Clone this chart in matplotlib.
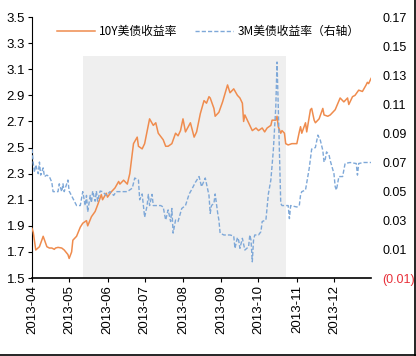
import matplotlib
matplotlib.use("Agg")
import matplotlib.pyplot as plt
import matplotlib.dates as mdates
import pandas as pd
import numpy as np

plt.rcParams['font.family'] = ['Liberation Sans', 'Noto Sans CJK SC', 'DejaVu Sans']

start = pd.Timestamp('2013-04-01')

# 10Y US Treasury yield (left axis): day offsets from 2013-04-01 and values
y10_days = [0, 1, 3, 6, 9, 12, 14, 16, 18, 19, 21, 24, 26, 29, 30, 32, 33, 36, 39, 41,
            44, 45, 48, 51, 53, 56, 57, 60, 61, 64, 67, 70, 71, 74, 77, 79, 82, 85, 86, 89,
            91, 95, 98, 100, 102, 106, 108, 110, 113, 116, 118, 120, 122, 124, 128, 131, 133, 136, 139, 141,
            143, 144, 147, 148, 151, 154, 158, 160, 163, 166, 168, 170, 171, 172, 175, 178, 181, 183, 186, 188,
            190, 193, 194, 197, 198, 199, 201, 202, 204, 205, 207, 210, 212, 214, 216, 217, 218, 221, 222, 225,
            226, 228, 229, 232, 235, 236, 239, 241, 245, 249, 252, 255, 256, 259, 261, 264, 267, 270, 271, 272,
            274]
y10_vals = [1.88, 1.85, 1.715, 1.74, 1.82, 1.74, 1.73, 1.73, 1.72, 1.73, 1.735, 1.73, 1.715, 1.68, 1.65, 1.70, 1.79, 1.82, 1.89, 1.92,
            1.94, 1.90, 1.97, 2.01, 2.06, 2.14, 2.10, 2.15, 2.12, 2.16, 2.19, 2.24, 2.22, 2.25, 2.22, 2.30, 2.53, 2.58, 2.51, 2.49,
            2.53, 2.72, 2.67, 2.69, 2.61, 2.56, 2.51, 2.51, 2.53, 2.61, 2.59, 2.63, 2.72, 2.62, 2.69, 2.58, 2.62, 2.76, 2.86, 2.84,
            2.89, 2.88, 2.80, 2.74, 2.77, 2.85, 2.98, 2.92, 2.95, 2.90, 2.88, 2.84, 2.70, 2.75, 2.69, 2.63, 2.65, 2.63, 2.65, 2.62,
            2.65, 2.67, 2.71, 2.71, 2.74, 2.66, 2.61, 2.63, 2.61, 2.53, 2.52, 2.53, 2.53, 2.53, 2.62, 2.66, 2.61, 2.69, 2.62, 2.79,
            2.80, 2.71, 2.69, 2.72, 2.80, 2.75, 2.74, 2.75, 2.79, 2.88, 2.85, 2.88, 2.83, 2.89, 2.90, 2.94, 2.93, 2.98, 3.00, 2.99,
            3.03]

# 3M US Treasury yield (right axis)
m3_days = [0, 1, 2, 3, 5, 6, 7, 9, 10, 12, 14, 16, 17, 21, 22, 24, 25, 26, 29, 30,
           33, 36, 39, 41, 43, 44, 45, 47, 48, 49, 51, 52, 53, 55, 57, 60, 63, 66, 68, 71,
           77, 81, 83, 86, 87, 89, 90, 91, 93, 94, 95, 97, 98, 104, 106, 108, 110, 112, 113, 114,
           116, 118, 121, 124, 127, 129, 132, 135, 137, 140, 143, 144, 145, 147, 148, 150, 151, 152, 155, 160,
           163, 164, 166, 167, 168, 170, 172, 175, 176, 177, 178, 179, 180, 183, 185, 186, 189, 191, 193, 195,
           197, 198, 199, 201, 202, 205, 207, 208, 209, 214, 216, 217, 218, 221, 224, 226, 229, 231, 233, 235,
           236, 237, 238, 240, 241, 244, 245, 246, 248, 251, 253, 257, 262, 263, 264, 268, 275]
m3_vals = [0.079, 0.069, 0.063, 0.068, 0.062, 0.070, 0.061, 0.066, 0.060, 0.061, 0.060, 0.056, 0.0496, 0.0496, 0.055, 0.0496, 0.055, 0.0496, 0.0576, 0.050,
           0.045, 0.040, 0.040, 0.0496, 0.040, 0.047, 0.0357, 0.047, 0.042, 0.050, 0.043, 0.050, 0.043, 0.050, 0.0496, 0.047, 0.0496, 0.047, 0.0496, 0.0496,
           0.0496, 0.052, 0.059, 0.0576, 0.044, 0.048, 0.040, 0.032, 0.040, 0.0477, 0.040, 0.0477, 0.040, 0.040, 0.039, 0.030, 0.037, 0.029, 0.038, 0.021,
           0.030, 0.029, 0.038, 0.040, 0.048, 0.051, 0.056, 0.060, 0.053, 0.059, 0.047, 0.0346, 0.040, 0.0415, 0.048, 0.035, 0.030, 0.021, 0.0197, 0.0197,
           0.019, 0.0105, 0.018, 0.016, 0.0105, 0.0174, 0.0093, 0.0116, 0.0197, 0.016, 0.0012, 0.016, 0.0197, 0.0197, 0.022, 0.029, 0.030, 0.048, 0.0576, 0.078,
           0.108, 0.139, 0.108, 0.0415, 0.040, 0.040, 0.040, 0.031, 0.040, 0.039, 0.040, 0.0472, 0.0496, 0.0507, 0.0656, 0.079, 0.080, 0.0886, 0.085, 0.078,
           0.070, 0.072, 0.077, 0.075, 0.071, 0.062, 0.053, 0.0507, 0.060, 0.060, 0.069, 0.0697, 0.069, 0.061, 0.069, 0.0697, 0.0697]

shade_start = '2013-05-12'
shade_end = '2013-10-23'
shade_top = 3.2

left_ticks = [1.5, 1.7, 1.9, 2.1, 2.3, 2.5, 2.7, 2.9, 3.1, 3.3, 3.5]
right_ticks = [-0.01, 0.01, 0.03, 0.05, 0.07, 0.09, 0.11, 0.13, 0.15, 0.17]
x_ticks = ['2013-04-01', '2013-05-01', '2013-06-01', '2013-07-01', '2013-08-01',
           '2013-09-01', '2013-10-01', '2013-11-01', '2013-12-01']

label_10y = '10Y美债收益率'
label_3m = '3M美债收益率（右轴）'

y10_dates = start + pd.to_timedelta(y10_days, unit='D')
m3_dates = start + pd.to_timedelta(m3_days, unit='D')

fig = plt.figure(figsize=(4.16, 3.56), dpi=100)
ax = fig.add_axes([0.077, 0.219, 0.815, 0.733])
ax2 = ax.twinx()

ax.fill_between([pd.Timestamp(shade_start), pd.Timestamp(shade_end)], 1.5, shade_top,
                color='#EFEFEF', lw=0, zorder=0)

l1, = ax.plot(y10_dates, y10_vals, color='#EF8C4E', lw=1.1, label=label_10y, zorder=3)
l2, = ax2.plot(m3_dates, m3_vals, color='#7EA8D8', lw=1.0, ls=(0, (3, 1.5)), label=label_3m)

ax.set_xlim(pd.Timestamp('2013-04-01'), pd.Timestamp('2013-12-31'))
ax.set_ylim(1.5, 3.5)
ax2.set_ylim(-0.01, 0.17)

ax.set_yticks(left_ticks)
ax.set_yticklabels([f'{v:.1f}' for v in left_ticks], fontsize=9.5)
ax2.set_yticks(right_ticks)
rl = [f'({abs(v):.2f})' if v < 0 else f'{v:.2f}' for v in right_ticks]
ax2.set_yticklabels(rl, fontsize=9)
for t, v in zip(ax2.get_yticklabels(), right_ticks):
    if v < 0:
        t.set_color('#E8303A')
ax2.tick_params(axis='y', length=0, pad=8)

ax.set_xticks(pd.to_datetime(x_ticks))
ax.xaxis.set_major_formatter(mdates.DateFormatter('%Y-%m'))
ax.tick_params(axis='x', rotation=90, labelsize=9.5, length=3, direction='out', pad=2)
ax.tick_params(axis='y', length=3, direction='out', pad=2)

for a in (ax, ax2):
    a.spines['top'].set_visible(False)
    a.spines['right'].set_visible(False)
ax2.spines['left'].set_visible(False)
ax2.spines['bottom'].set_visible(False)
ax.spines['left'].set_color('black')
ax.spines['bottom'].set_color('black')
ax.spines['bottom'].set_linewidth(1.2)

ax2.legend([l1, l2], [label_10y, label_3m], loc='upper center',
           bbox_to_anchor=(0.52, 1.01), ncol=2, frameon=False,
           prop={'family': ['Noto Sans CJK SC', 'DejaVu Sans'], 'size': 8.5},
           handlelength=3.2, columnspacing=1.5, handletextpad=0.4)

# figure border lines (bottom and right)
fig.add_artist(plt.Line2D([0, 1], [0.002, 0.002], color='black', lw=1.2, transform=fig.transFigure))
fig.add_artist(plt.Line2D([0.998, 0.998], [0, 1], color='black', lw=1.2, transform=fig.transFigure))

fig.savefig('out.png', dpi=100)
